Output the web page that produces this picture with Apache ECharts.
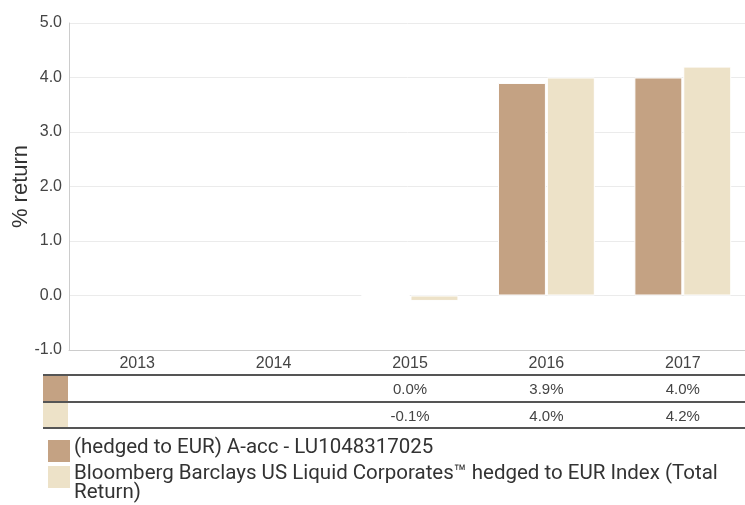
<!DOCTYPE html>
<html>
<head>
<meta charset="utf-8">
<style>
  html, body { margin: 0; padding: 0; background: #fff; }
  #main { width: 745px; height: 505px; }
</style>
<script src="https://cdn.jsdelivr.net/npm/echarts@6/dist/echarts.min.js"></script>
</head>
<body>
<div id="main"></div>
<script>
// chart data
var years = ['2013', '2014', '2015', '2016', '2017']
var fundValues = [null, null, 0.0, 3.9, 4.0]
var indexValues = [null, null, -0.1, 4.0, 4.2]
var seriesNames = [
  '(hedged to EUR) A-acc - LU1048317025',
  'Bloomberg Barclays US Liquid Corporates\u2122 hedged to EUR Index (Total Return)'
]
var yTicks = [-1, 0, 1, 2, 3, 4, 5]

var colors = ['#C4A283', '#EDE2C8']
var axisFont = 'Liberation Sans, Arial, sans-serif'
var legendFont = 'Roboto, "Open Sans", sans-serif'

function pct(arr) {
  return function(v, i) {
    return arr[i] == null ? '' : arr[i].toFixed(1) + '%'
  }
}

// table row axes (value rows under the years)
function rowAxis(arr, offset) {
  return {
    type: 'category',
    data: years,
    position: 'bottom',
    offset: offset,
    axisLine: { show: false, onZero: false },
    axisTick: { show: false },
    splitLine: { show: false },
    axisLabel: {
      formatter: pct(arr),
      color: '#444',
      fontFamily: axisFont,
      fontSize: 15,
      margin: 7
    }
  }
}

var chart = echarts.init(document.getElementById('main'))

var graphics = []
// table separators
;[375, 402, 428].forEach(function(y) {
  graphics.push({
    type: 'line',
    shape: { x1: 43, y1: y, x2: 745, y2: y },
    style: { stroke: '#555', lineWidth: 2 }
  })
})
// table swatches
graphics.push({ type: 'rect', shape: { x: 43, y: 376, width: 25, height: 25 }, style: { fill: colors[0] } })
graphics.push({ type: 'rect', shape: { x: 43, y: 403, width: 25, height: 24 }, style: { fill: colors[1] } })
// legend
var legendTops = [440, 466]
seriesNames.forEach(function(name, i) {
  graphics.push({
    type: 'rect',
    shape: { x: 48, y: legendTops[i], width: 22, height: 22 },
    style: { fill: colors[i] }
  })
  graphics.push({
    type: 'text',
    x: 74,
    y: legendTops[i] - 2,
    style: {
      text: name,
      width: 665,
      overflow: 'break',
      fill: '#333',
      font: '20.5px ' + legendFont,
      lineHeight: 19,
      verticalAlign: 'top'
    }
  })
})

chart.setOption({
  animation: false,
  grid: {
    left: 69,
    right: -6,
    top: 23,
    bottom: 155,
    outerBoundsMode: 'none'
  },
  xAxis: [
    {
      type: 'category',
      data: years,
      axisLine: { onZero: false, lineStyle: { color: '#ccc' } },
      axisTick: { show: false },
      axisLabel: {
        color: '#444',
        fontFamily: axisFont,
        fontSize: 16,
        margin: 6
      }
    },
    rowAxis(fundValues, 25),
    rowAxis(indexValues, 52)
  ],
  yAxis: {
    type: 'value',
    min: yTicks[0],
    max: yTicks[yTicks.length - 1],
    interval: 1,
    name: '% return',
    nameLocation: 'middle',
    nameGap: 37,
    nameMoveOverlap: false,
    nameTextStyle: {
      color: '#333',
      fontFamily: axisFont,
      fontSize: 22
    },
    axisLine: { show: true, lineStyle: { color: '#ccc' } },
    axisTick: { show: false },
    splitLine: { lineStyle: { color: '#ebebeb' } },
    axisLabel: {
      color: '#444',
      fontFamily: axisFont,
      fontSize: 16,
      margin: 7,
      formatter: function(v) { return v.toFixed(1) }
    }
  },
  series: [
    {
      name: seriesNames[0],
      type: 'bar',
      data: fundValues,
      barGap: '2%',
      barCategoryGap: '29%',
      itemStyle: { color: colors[0], borderColor: '#fff', borderWidth: 1 }
    },
    {
      name: seriesNames[1],
      type: 'bar',
      data: indexValues,
      itemStyle: { color: colors[1], borderColor: '#fff', borderWidth: 1 }
    }
  ],
  graphic: graphics
})
</script>
</body>
</html>
